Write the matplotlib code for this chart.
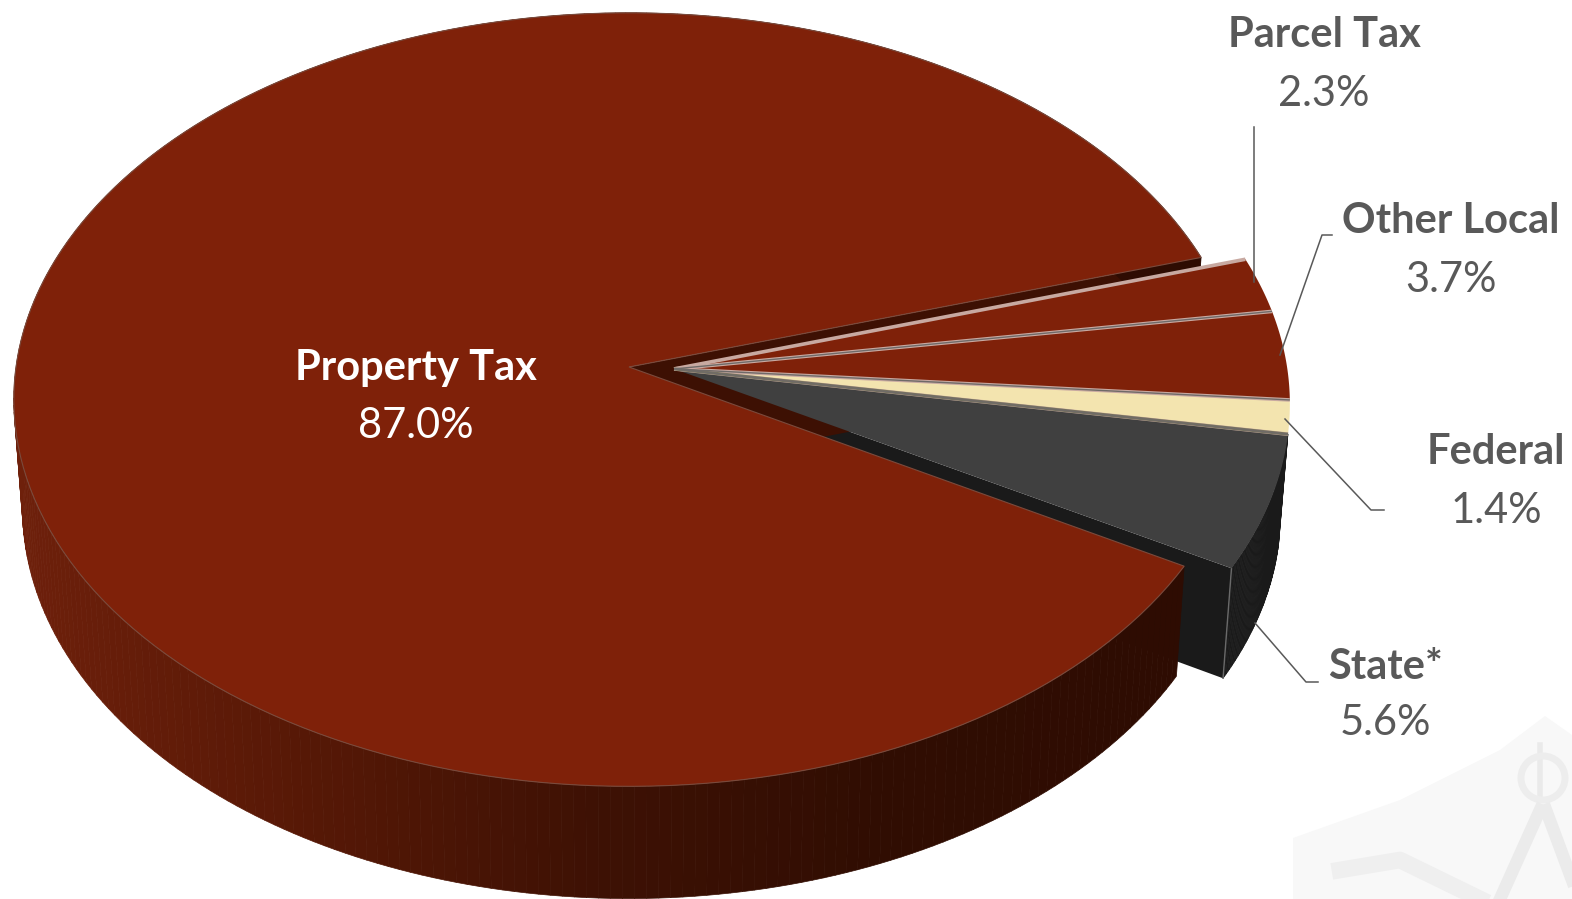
import numpy as np
import matplotlib
matplotlib.use('Agg')
import matplotlib.pyplot as plt
from matplotlib.collections import PolyCollection
from matplotlib.colors import LinearSegmentedColormap

# revenue shares in percent, clockwise from Property Tax's end
names = ['Property Tax', 'Parcel Tax', 'Other Local', 'Federal', 'State*']
shares = [87.0, 2.3, 3.7, 1.4, 5.6]
top_colors = ['#7F2109', '#7F2109', '#7F2109', '#F3E4AF', '#404040']

GREY = '#595959'
START = 17.0       # angle where the group of small slices begins
PUSH = (0.0735, -0.005)   # how far the small slices are pulled out
K = 0.0843         # perspective strength
SX, SY = 613.0, 384.0
TIP = (629.0, 367.0)
DEPTH = (0.986, 1.01, 475.0)  # x scale, y scale, y of pie centre on the lower face

plt.rcParams['font.family'] = ['Lato', 'DejaVu Sans']

fig = plt.figure(figsize=(15.72, 8.99), dpi=100)
ax = fig.add_axes([0, 0, 1, 1])
ax.set_xlim(0, 1572)
ax.set_ylim(899, 0)
ax.axis('off')


def project(ang, r=1.0, push=(0, 0), lower=False):
    # circle in the pie's plane -> picture coordinates
    ang = np.radians(ang)
    u = r * np.cos(ang) + push[0]
    v = r * np.sin(ang) + push[1]
    d = 1 + K * v
    x, y = u / d, v / d
    if lower:
        return TIP[0] + DEPTH[0] * SX * x, DEPTH[2] - DEPTH[1] * SY * y
    return TIP[0] + SX * x, TIP[1] - SY * y


def top_poly(a0, a1, push=(0, 0)):
    angs = np.linspace(a0, a1, 200)
    xs, ys = project(angs, push=push)
    cx, cy = project(0, 0, push=push)
    return np.r_[cx, xs], np.r_[cy, ys]


def side_quads(a0, a1, push=(0, 0), n=300):
    angs = np.linspace(a0, a1, n)
    tx, ty = project(angs, push=push)
    bx, by = project(angs, push=push, lower=True)
    quads = []
    for i in range(n - 1):
        quads.append([(tx[i], ty[i]), (tx[i + 1], ty[i + 1]), (bx[i + 1], by[i + 1]), (bx[i], by[i])])
    return quads, tx, bx


def cut_face(ang, push=(0, 0)):
    cx, cy = project(0, 0, push=push)
    cx2, cy2 = project(0, 0, push=push, lower=True)
    rx, ry = project(ang, push=push)
    rx2, ry2 = project(ang, push=push, lower=True)
    return [cx, rx, rx2, cx2], [cy, ry, ry2, cy2]


# faint compass emblem behind the pie, lower right
ax.fill([1293, 1400, 1500, 1545, 1572, 1572, 1293], [838, 800, 750, 716, 735, 899, 899], color='#F8F8F8', lw=0, zorder=0)
ax.plot([1340, 1400, 1480], [870, 860, 899], color='#EFEFEF', lw=12, zorder=0)
ax.plot([1540, 1540], [745, 800], color='#EAEAEA', lw=4, zorder=0)
ax.add_patch(plt.Circle((1543, 778), 22, fc='none', ec='#EDEDED', lw=5, zorder=0))
ax.plot([1540, 1500], [810, 899], color='#EBEBEB', lw=9, zorder=0)
ax.plot([1546, 1572], [810, 880], color='#EBEBEB', lw=9, zorder=0)

# slice angles, walking clockwise from START
spans = [s / sum(shares) * 360 for s in shares]
edges = [START]
for s in spans[1:]:
    edges.append(edges[-1] - s)
state_end = edges[-1]

# state slice: cut face and curved wall
fx, fy = cut_face(state_end, PUSH)
ax.fill(fx, fy, color='#1A1A1A', lw=0, zorder=1)
quads, _, _ = side_quads(edges[3], state_end, PUSH, n=60)
ax.add_collection(PolyCollection(quads, facecolors='#1A1A1A', edgecolors='#1A1A1A', linewidths=0.5, zorder=1))
rx, ry = project(state_end, push=PUSH)
rx2, ry2 = project(state_end, push=PUSH, lower=True)
ax.plot([rx, rx2], [ry, ry2], color='#6A6A6A', lw=1, zorder=1.5)

# property tax: inner face seen in the notch
fx, fy = cut_face(START)
ax.fill(fx, fy, color='#3D1003', lw=0, zorder=2)

# property tax outer wall, darker toward the right
wall_cmap = LinearSegmentedColormap.from_list('wall', ['#6E200B', '#561806', '#3E1104', '#300D02', '#2E0C02'])
quads, tx, bx = side_quads(START, START + spans[0])
mid = np.array([q[0][0] for q in quads])
wall_colors = wall_cmap(np.clip((mid - 13) / 1150, 0, 1))
ax.add_collection(PolyCollection(quads, facecolors=wall_colors, edgecolors=wall_colors, linewidths=0.5, zorder=3))

# top faces
px, py = top_poly(START, START + spans[0])
ax.fill(px, py, facecolor=top_colors[0], edgecolor='#7A4A3C', lw=0.8, zorder=4)
for i in range(1, 5):
    px, py = top_poly(edges[i - 1], edges[i], PUSH)
    ax.fill(px, py, color=top_colors[i], lw=0, zorder=5)

# light seams between the small slices
for ang in edges[0:4]:
    sx, sy = project(ang, push=PUSH)
    cx, cy = project(0, 0, push=PUSH)
    ax.plot([cx, sx], [cy, sy], color='#C8A9A1', lw=2.6, zorder=6, solid_capstyle='butt')
    if ang != edges[0]:
        ax.plot([cx, sx], [cy, sy], color='#6F6A68', lw=1.0, zorder=6.1, solid_capstyle='butt')
sx, sy = project(edges[3], push=PUSH)
cx, cy = project(0, 0, push=PUSH)
ax.plot([cx, sx], [cy, sy], color='#77735F', lw=2.2, zorder=6, solid_capstyle='butt')

# leader lines
leaders = [([1254, 1254], [127, 282]),
           ([1280, 1322, 1332], [355, 235, 235]),
           ([1285, 1371, 1384], [419, 510, 510]),
           ([1255, 1306, 1318], [623, 682, 682])]
for lx, ly in leaders:
    ax.plot(lx, ly, color=GREY, lw=1.1, zorder=7)

# labels
label_x = [416, 1324, 1451, 1496, 1385]
name_y = [368, 35, 221, 452, 667]
value_y = [426, 94, 280, 511, 723]
label_colors = ['white', GREY, GREY, GREY, GREY]
for nm, sh, x, y1, y2, c in zip(names, shares, label_x, name_y, value_y, label_colors):
    ax.text(x, y1, nm, ha='center', va='center', fontsize=30, fontweight='bold', color=c, zorder=8)
    ax.text(x, y2, f'{sh:.1f}%', ha='center', va='center', fontsize=30, color=c, zorder=8)

fig.savefig('out.png', dpi=100)
